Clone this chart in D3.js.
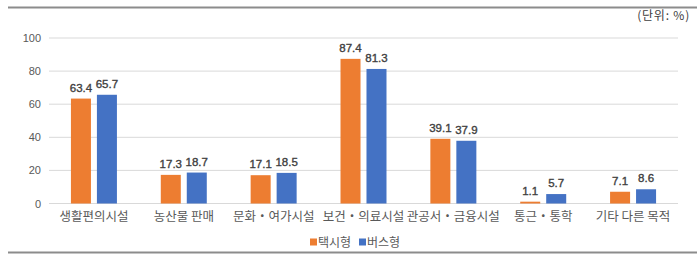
<!DOCTYPE html>
<html><head><meta charset="utf-8">
<script src="https://cdn.jsdelivr.net/npm/d3@7"></script>
<style>body{margin:0;background:#fff}svg{display:block}</style>
</head><body>
<svg id="c" width="700" height="259"></svg>
<script>
const categories = ["생활편의시설","농산물 판매","문화・여가시설","보건・의료시설","관공서・금융시설","통근・통학","기타 다른 목적"];
const seriesNames = ["택시형","버스형"];
const taxi = [63.4,17.3,17.1,87.4,39.1,1.1,7.1];
const bus = [65.7,18.7,18.5,81.3,37.9,5.7,8.6];
const yTicks = [0,20,40,60,80,100];
const colors = ["#ED7D31","#4472C4"];

const svg = d3.select("#c");
const font = "'Liberation Sans', Arial, 'Noto Sans CJK KR', sans-serif";
const kfont = "'Noto Sans CJK KR', 'Liberation Sans', sans-serif";
const x = d3.scaleBand().domain(categories).range([49,678]);
const x1 = d3.scaleBand().domain(seriesNames).range([0, x.bandwidth()]).paddingInner(0.23).paddingOuter(0.844);
const y = d3.scaleLinear().domain([0,100]).range([203.5,38]);

// frame lines
svg.append("line").attr("x1",8).attr("x2",697).attr("y1",7.5).attr("y2",7.5).attr("stroke","#8c8c8c").attr("stroke-width",2);
svg.append("line").attr("x1",8).attr("x2",697).attr("y1",252.5).attr("y2",252.5).attr("stroke","#8c8c8c").attr("stroke-width",2);

svg.append("text").attr("x",690).attr("y",19.5).attr("text-anchor","end").attr("font-family",kfont).attr("font-size",12).attr("letter-spacing",0.8).attr("fill","#404040").text("(단위: %)");

// grid
svg.append("g").selectAll("line").data(yTicks).join("line")
  .attr("x1",49).attr("x2",678).attr("y1",d=>y(d)).attr("y2",d=>y(d))
  .attr("stroke","#d9d9d9").attr("stroke-width",1);

// y axis
const ya = svg.append("g").attr("transform","translate(49,0)")
  .call(d3.axisLeft(y).tickValues(yTicks).tickSize(0).tickPadding(8));
ya.select(".domain").remove();
ya.selectAll("text").attr("font-family",font).attr("font-size",11).attr("fill","#595959");

// bars
const data = [taxi,bus];
const g = svg.append("g");
seriesNames.forEach((s,si)=>{
  g.selectAll(".b"+si).data(categories).join("rect")
   .attr("x",(c)=>x(c)+x1(s)).attr("width",x1.bandwidth())
   .attr("y",(c,i)=>y(data[si][i])).attr("height",(c,i)=>y(0)-y(data[si][i]))
   .attr("fill",colors[si]);
  g.selectAll(".l"+si).data(categories).join("text")
   .attr("x",(c)=>x(c)+x1(s)+x1.bandwidth()/2)
   .attr("y",(c,i)=>y(data[si][i])-7)
   .attr("text-anchor","middle").attr("font-family",font).attr("font-size",11.5)
   .attr("fill","#404040").attr("stroke","#404040").attr("stroke-width",0.35)
   .text((c,i)=>data[si][i].toFixed(1));
});

// x labels
const xa = svg.append("g").attr("transform","translate(0,203.5)")
  .call(d3.axisBottom(x).tickSize(0).tickPadding(9));
xa.select(".domain").remove();
xa.selectAll("text").attr("font-family",kfont).attr("font-size",12.5).attr("fill","#595959");

// legend
const leg = svg.append("g");
const lx = [310,359];
seriesNames.forEach((s,i)=>{
  leg.append("rect").attr("x",lx[i]).attr("y",238.5).attr("width",7).attr("height",7).attr("fill",colors[i]);
  leg.append("text").attr("x",lx[i]+8).attr("y",246.5).attr("font-family",kfont).attr("font-size",12).attr("fill","#595959").text(s);
});
</script>
</body></html>
